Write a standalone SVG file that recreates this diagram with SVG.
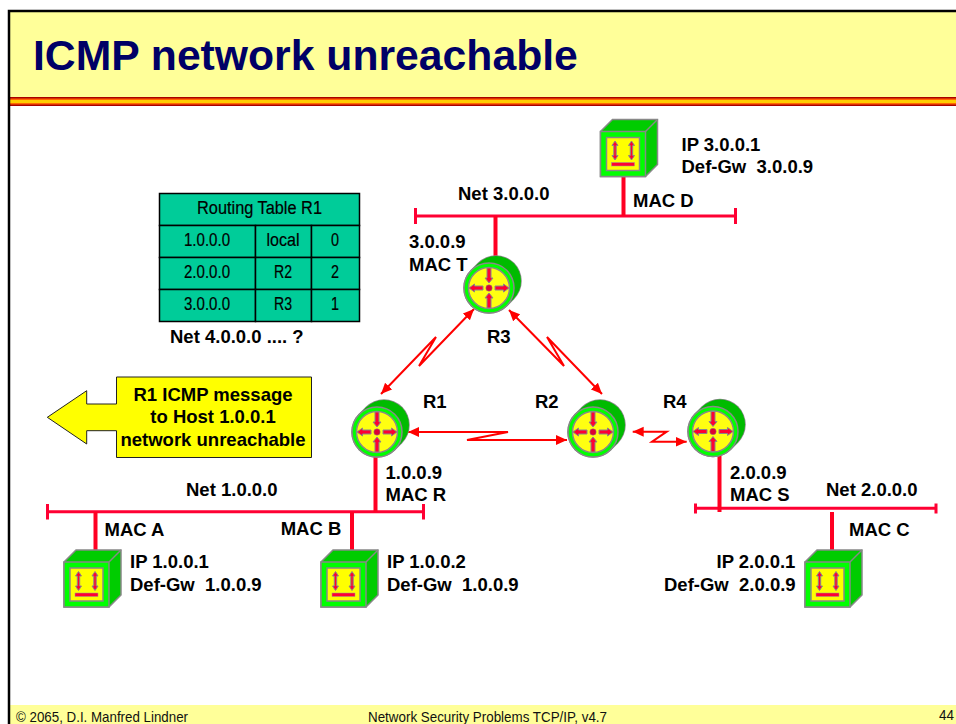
<svg xmlns="http://www.w3.org/2000/svg" width="956" height="724" viewBox="0 0 956 724">
<style>
text{font-family:"Liberation Sans",Arial,sans-serif;white-space:pre}
.l{font-size:18.5px;font-weight:bold;fill:#000}
.t{font-size:18px;fill:#000;stroke:#000;stroke-width:.2;text-anchor:middle}
.f{font-size:15px;fill:#111}
.net{stroke:#ff0033;fill:none;stroke-width:3}
.drop{stroke:#ff0022;fill:none;stroke-width:4}
.wan{stroke:#ff0000;fill:none;stroke-width:2;marker-start:url(#a);marker-end:url(#a)}
.cell{fill:#00cc99;stroke:#000;stroke-width:1.5}
</style>
<defs>
<marker id="a" viewBox="0 0 10 10" refX="10" refY="5" markerWidth="11" markerHeight="11" markerUnits="userSpaceOnUse" orient="auto-start-reverse"><path d="M0 0.500L10 5L0 9.500Z" fill="#ff0000"/></marker>
<g id="host">
<path d="M0 12L12 0H57V45L45 57H0Z" fill="#00cc00" stroke="#888" stroke-width="1.500"/>
<path d="M45 12L57 0" fill="none" stroke="#888" stroke-width="1.500"/>
<rect x="0" y="12" width="45" height="45" fill="#00ff00" stroke="#888" stroke-width="1.500"/>
<rect x="6" y="18" width="33" height="33" fill="#ffff00" stroke="#888" stroke-width="1.500"/>
<path d="M14.500 21.500L17.500 26H15.700V36H17.500L14.500 40.500L11.500 36H13.300V26H11.500Z" fill="#ff0033" stroke="#888" stroke-width="1"/>
<path d="M31 21.500L34 26H32.200V36H34L31 40.500L28 36H29.800V26H28Z" fill="#ff0033" stroke="#888" stroke-width="1"/>
<rect x="11" y="43" width="23" height="3.500" fill="#ff0033" stroke="#999" stroke-width=".5"/>
</g>
<g id="router">
<path d="M0 0L7 -7" stroke="#888" stroke-width="51.500" stroke-linecap="round"/>
<path d="M0 0L7 -7" stroke="#00bb00" stroke-width="50" stroke-linecap="round"/>
<circle cx="0" cy="0" r="25" fill="#00ff00" stroke="#888" stroke-width="1.500"/>
<circle cx="0" cy="0" r="20.500" fill="#ffff11" stroke="#888" stroke-width="1.500"/>
<path d="M-20 0L-14.500 -4V-2H-6V2H-14.500V4ZM20 0L14.500 -4V-2H6V2H14.500V4ZM0 -5L-4 -10H-2V-20H2V-10H4ZM0 5L-4 10H-2V20H2V10H4Z" fill="#ff0033" stroke="#888" stroke-width="1"/>
<circle r="3.200" fill="#dd0033" stroke="#888" stroke-width=".5"/>
</g>
</defs>
<rect width="956" height="724" fill="#fff"/>
<g id="frame">
<rect x="9" y="11" width="947" height="87" fill="#ffff99"/>
<rect x="9" y="705" width="947" height="19" fill="#ffff99"/>
<rect x="9" y="97" width="947" height="9" fill="#aa0000"/>
<rect x="9" y="98.500" width="947" height="6" fill="#ff6600"/>
<rect x="9" y="100" width="947" height="3" fill="#ffcc00"/>
<path d="M9 724V11H956" fill="none" stroke="#000" stroke-width="2.500"/>
<text x="33" y="70" font-size="42.700" font-weight="bold" fill="#000066">ICMP network unreachable</text>
<text x="16" y="722" class="f" textLength="172" lengthAdjust="spacingAndGlyphs">© 2065, D.I. Manfred Lindner</text>
<text x="368" y="722" class="f" textLength="239" lengthAdjust="spacingAndGlyphs">Network Security Problems TCP/IP, v4.7</text>
<text x="939" y="720" font-size="14" fill="#111" textLength="15" lengthAdjust="spacingAndGlyphs">44</text>
</g>
<g id="connectors">
<path class="net" d="M47.500 511.700H423.500M47.500 504V519.500M423.500 504V519.500"/>
<path class="net" d="M695.500 508.300H936M695.500 503.500V513.500M936 503.500V513.500"/>
<path class="net" d="M415.500 216H735.500M415.500 208V224M735.500 208V224"/>
<path class="drop" d="M375.500 455V512M95.500 512V552M352 512V552M719.500 455V512M832 512V552M623.500 176V216M495.500 216V262"/>
<path class="wan" d="M474 309L419 366L436 337L381 394"/>
<path class="wan" d="M509 310L564 366L547 337L602 394"/>
<path class="wan" d="M408 432H508L467 440H567"/>
<path class="wan" d="M632.700 431.700H666.700L652 441.700H686.700"/>
</g>
<g id="hostD"><use href="#host" x="600.500" y="119.500"/></g>
<g id="hostA"><use href="#host" x="64" y="550"/></g>
<g id="hostB"><use href="#host" x="321" y="550"/></g>
<g id="hostC"><use href="#host" x="805" y="550"/></g>
<g id="R1"><use href="#router" x="377" y="432"/></g>
<g id="R2"><use href="#router" x="593" y="432"/></g>
<g id="R3"><use href="#router" x="489" y="288"/></g>
<g id="R4"><use href="#router" x="713" y="431.500"/></g>
<g id="table">
<rect class="cell" x="159.500" y="193.500" width="200" height="32"/>
<rect class="cell" x="159.500" y="225.500" width="96" height="32"/>
<rect class="cell" x="255.500" y="225.500" width="56" height="32"/>
<rect class="cell" x="311.500" y="225.500" width="48" height="32"/>
<rect class="cell" x="159.500" y="257.500" width="96" height="32"/>
<rect class="cell" x="255.500" y="257.500" width="56" height="32"/>
<rect class="cell" x="311.500" y="257.500" width="48" height="32"/>
<rect class="cell" x="159.500" y="289.500" width="96" height="32"/>
<rect class="cell" x="255.500" y="289.500" width="56" height="32"/>
<rect class="cell" x="311.500" y="289.500" width="48" height="32"/>
<text class="t" x="259.500" y="214" textLength="125" lengthAdjust="spacingAndGlyphs">Routing Table R1</text>
<text class="t" x="207" y="246" textLength="46" lengthAdjust="spacingAndGlyphs">1.0.0.0</text>
<text class="t" x="283" y="246" textLength="33" lengthAdjust="spacingAndGlyphs">local</text>
<text class="t" x="335" y="246" textLength="8" lengthAdjust="spacingAndGlyphs">0</text>
<text class="t" x="207" y="278" textLength="46" lengthAdjust="spacingAndGlyphs">2.0.0.0</text>
<text class="t" x="283" y="278" textLength="18" lengthAdjust="spacingAndGlyphs">R2</text>
<text class="t" x="335" y="278" textLength="8" lengthAdjust="spacingAndGlyphs">2</text>
<text class="t" x="207" y="310" textLength="46" lengthAdjust="spacingAndGlyphs">3.0.0.0</text>
<text class="t" x="283" y="310" textLength="18" lengthAdjust="spacingAndGlyphs">R3</text>
<text class="t" x="335" y="310" textLength="8" lengthAdjust="spacingAndGlyphs">1</text>
</g>
<g id="callout">
<path d="M116.500 377H311.500V457.500H116.500V430.700H86.700V444L47.300 417.300L86.700 390.700V404H116.500Z" fill="#ffff00" stroke="#222" stroke-width="1"/>
<text class="l" x="213" y="400.500" text-anchor="middle">R1 ICMP message</text>
<text class="l" x="213" y="423" text-anchor="middle">to Host 1.0.0.1</text>
<text class="l" x="213" y="445.500" text-anchor="middle">network unreachable</text>
</g>
<g id="labels">
<text class="l" x="681.500" y="150.500">IP 3.0.0.1</text>
<text class="l" x="681.500" y="172.700">Def-Gw  3.0.0.9</text>
<text class="l" x="458" y="200">Net 3.0.0.0</text>
<text class="l" x="633" y="206.700">MAC D</text>
<text class="l" x="409" y="248">3.0.0.9</text>
<text class="l" x="409" y="271">MAC T</text>
<text class="l" x="170" y="343">Net 4.0.0.0 .... ?</text>
<text class="l" x="487" y="343">R3</text>
<text class="l" x="423" y="407.500">R1</text>
<text class="l" x="535" y="407.500">R2</text>
<text class="l" x="663" y="407.500">R4</text>
<text class="l" x="385.500" y="478.700">1.0.0.9</text>
<text class="l" x="385.500" y="500.700">MAC R</text>
<text class="l" x="730" y="478.700">2.0.0.9</text>
<text class="l" x="730" y="500.700">MAC S</text>
<text class="l" x="186" y="496">Net 1.0.0.0</text>
<text class="l" x="826" y="496">Net 2.0.0.0</text>
<text class="l" x="104.500" y="536">MAC A</text>
<text class="l" x="280.700" y="535">MAC B</text>
<text class="l" x="849" y="535.700">MAC C</text>
<text class="l" x="130" y="568">IP 1.0.0.1</text>
<text class="l" x="130" y="591">Def-Gw  1.0.0.9</text>
<text class="l" x="387" y="568">IP 1.0.0.2</text>
<text class="l" x="387" y="591">Def-Gw  1.0.0.9</text>
<text class="l" x="716.500" y="568">IP 2.0.0.1</text>
<text class="l" x="664" y="591">Def-Gw  2.0.0.9</text>
</g>
</svg>
